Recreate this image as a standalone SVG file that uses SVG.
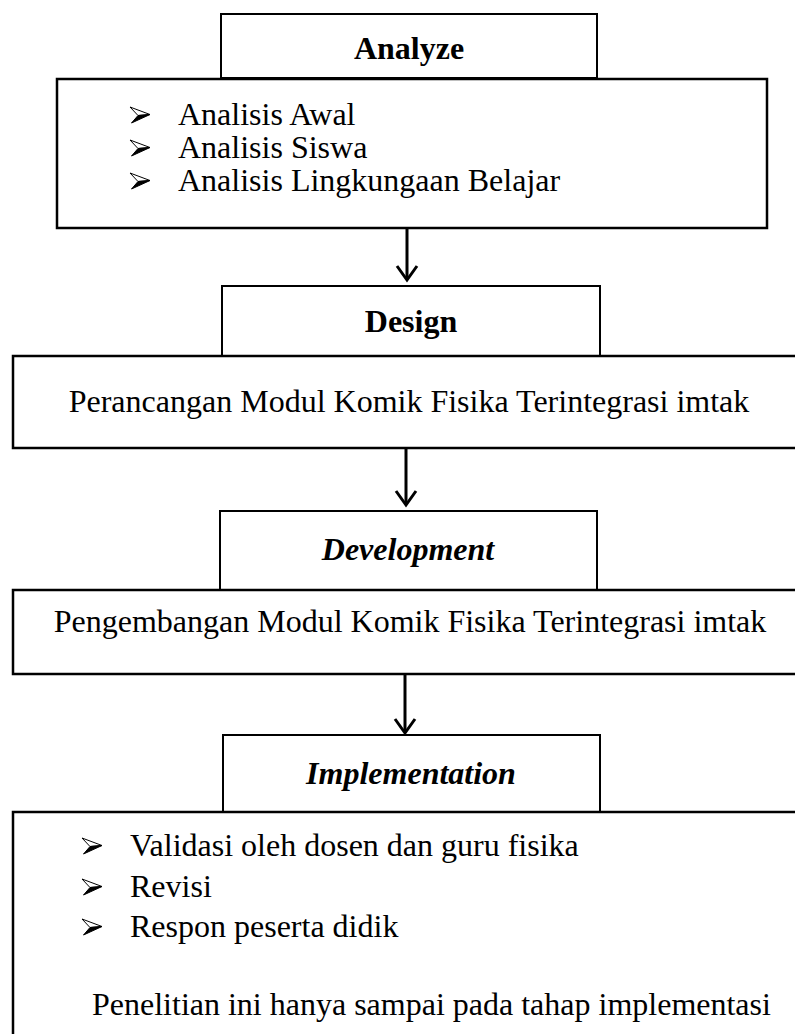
<svg xmlns="http://www.w3.org/2000/svg" xmlns:xlink="http://www.w3.org/1999/xlink" width="795" height="1034" viewBox="0 0 795 1034">
<style>
.hdr{fill:#fff;stroke:#000;stroke-width:2}
.box{fill:#fff;stroke:#000;stroke-width:2.5}
.t{font-family:"Liberation Serif","Times New Roman",serif;font-size:32px;fill:#000}
.b{font-weight:bold}
.bi{font-weight:bold;font-style:italic}
.c{text-anchor:middle}
.arr{stroke:#000;stroke-width:3;fill:none}
.ah{stroke:#000;stroke-width:3;fill:none;stroke-linejoin:miter}
</style>
<defs>
<g id="bullet">
<path d="M0,0 L20,7.5 L8,8.5 Z" fill="#fff" stroke="#000" stroke-width="1" stroke-linejoin="round"/>
<path d="M8,8.5 L20,7.5 L1.5,16 Z" fill="#000" stroke="#000" stroke-width="1" stroke-linejoin="round"/>
</g>
</defs>
<rect width="795" height="1034" fill="#fff"/>
<g id="connectors">
<line class="arr" x1="407" y1="228" x2="407" y2="279"/>
<polyline class="ah" points="397,266 407,280 417,266"/>
<line class="arr" x1="406" y1="448" x2="406" y2="504"/>
<polyline class="ah" points="396,491 406,505 416,491"/>
<line class="arr" x1="405" y1="674" x2="405" y2="732"/>
<polyline class="ah" points="395,719 405,733 415,719"/>
</g>
<g id="analyze">
<rect class="hdr" x="221" y="14" width="376" height="64"/>
<text class="t b c" x="409" y="59">Analyze</text>
</g>
<g id="analyze-box">
<rect class="box" x="57" y="79" width="710" height="149"/>
<use xlink:href="#bullet" href="#bullet" x="130" y="107"/>
<text class="t" x="178" y="125">Analisis Awal</text>
<use xlink:href="#bullet" href="#bullet" x="130" y="140"/>
<text class="t" x="178" y="158">Analisis Siswa</text>
<use xlink:href="#bullet" href="#bullet" x="130" y="173"/>
<text class="t" x="178" y="191">Analisis Lingkungaan Belajar</text>
</g>
<g id="design">
<rect class="hdr" x="222" y="286" width="378" height="70"/>
<text class="t b c" x="411" y="332">Design</text>
</g>
<g id="design-box">
<rect class="box" x="13" y="356" width="800" height="92"/>
<text class="t c" x="409" y="412">Perancangan Modul Komik Fisika Terintegrasi imtak</text>
</g>
<g id="development">
<rect class="hdr" x="220" y="511" width="377" height="79"/>
<text class="t bi c" x="408" y="560">Development</text>
</g>
<g id="development-box">
<rect class="box" x="13" y="590" width="800" height="84"/>
<text class="t c" x="410" y="632">Pengembangan Modul Komik Fisika Terintegrasi imtak</text>
</g>
<g id="implementation">
<rect class="hdr" x="223" y="735" width="377" height="77"/>
<text class="t bi c" x="411" y="784">Implementation</text>
</g>
<g id="implementation-box">
<rect class="box" x="13" y="812" width="800" height="240"/>
<use xlink:href="#bullet" href="#bullet" x="82" y="838"/>
<text class="t" x="130" y="856">Validasi oleh dosen dan guru fisika</text>
<use xlink:href="#bullet" href="#bullet" x="82" y="879"/>
<text class="t" x="130" y="897">Revisi</text>
<use xlink:href="#bullet" href="#bullet" x="82" y="919"/>
<text class="t" x="130" y="937">Respon peserta didik</text>
<text class="t" x="92" y="1015">Penelitian ini hanya sampai pada tahap implementasi</text>
</g>
</svg>
